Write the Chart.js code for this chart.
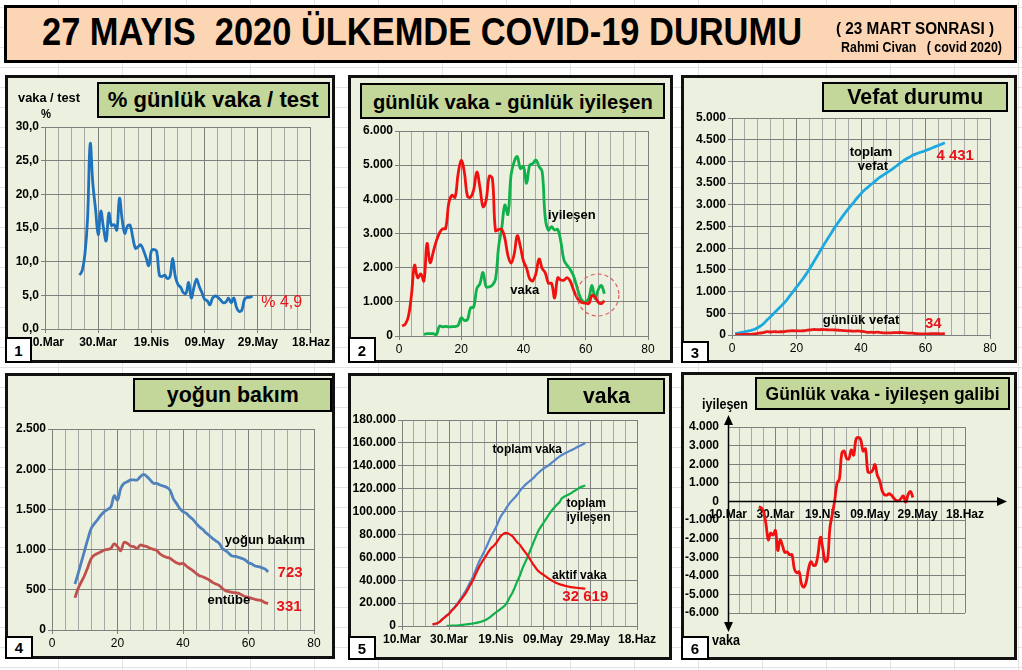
<!DOCTYPE html>
<html lang="tr">
<head>
<meta charset="utf-8">
<title>27 Mayıs 2020 Ülkemde Covid-19 Durumu</title>
<script src="https://cdn.jsdelivr.net/npm/chart.js@4.4.1/dist/chart.umd.min.js"></script>
<style>
  html, body { margin: 0; padding: 0; }
  body {
    width: 1022px; height: 670px; position: relative; overflow: hidden;
    background-color: #fff;
    background-image: linear-gradient(#e3e3e3 1px, transparent 1px), linear-gradient(90deg, #e3e3e3 1px, transparent 1px);
    background-size: 64px 20px;
    background-position: -6px 7px;
    font-family: "Liberation Sans Narrow", "Liberation Sans", Arial, sans-serif;
  }
  .banner { position: absolute; left: 4px; top: 5px; width: 1013px; height: 58px; box-sizing: border-box; background: #fcd5b4; border: 3px solid #000; }
  .fit { position: absolute; z-index: 4; white-space: pre; font-weight: bold; transform-origin: left top; line-height: 1; color: #000; }
  .panel { position: absolute; box-sizing: border-box; background: #ebf1de; border: 3px solid #111; }
  canvas { position: absolute; z-index: 2; }
  .ttl { position: absolute; z-index: 3; box-sizing: border-box; background: #c4d79b; border: 2px solid #000; display: flex; align-items: center; justify-content: center; }
  .ttl span { font-weight: bold; white-space: nowrap; display: inline-block; line-height: 1; }
  .num { position: absolute; z-index: 3; box-sizing: border-box; background: #fff; border: 2px solid #000; font: bold 15px "Liberation Sans", Arial, sans-serif; display: flex; align-items: center; justify-content: center; }
</style>
</head>
<body>
<div class="banner"></div>
<span class="fit" data-w="760" style="left:42px;top:13px;font-size:38px;">27 MAYIS  2020 ÜLKEMDE COVID-19 DURUMU</span>
<span class="fit" data-w="158" style="left:836px;top:21px;font-size:16px;">( 23 MART SONRASI )</span>
<span class="fit" data-w="161" style="left:841px;top:40px;font-size:14px;">Rahmi Civan   ( covid 2020)</span>

<div class="panel" style="left:5px;top:75px;width:330px;height:288px;"></div>
<div class="panel" style="left:348px;top:75px;width:325px;height:288px;"></div>
<div class="panel" style="left:681px;top:75px;width:336px;height:288px;"></div>
<div class="panel" style="left:5px;top:373px;width:330px;height:286px;"></div>
<div class="panel" style="left:348px;top:373px;width:324px;height:287px;"></div>
<div class="panel" style="left:681px;top:372px;width:336px;height:288px;"></div>

<canvas id="c1"></canvas>
<canvas id="c2"></canvas>
<canvas id="c3"></canvas>
<canvas id="c4"></canvas>
<canvas id="c5"></canvas>
<canvas id="c6"></canvas>

<div class="ttl" style="left:97px;top:82px;width:233px;height:36px;"><span data-w="211" style="font-size:22px;">%  günlük vaka / test</span></div>
<div class="ttl" style="left:360px;top:83px;width:305px;height:36px;"><span data-w="280" style="font-size:21px;">günlük vaka  - günlük iyileşen</span></div>
<div class="ttl" style="left:822px;top:82px;width:186px;height:30px;"><span data-w="136" style="font-size:22px;">Vefat durumu</span></div>
<div class="ttl" style="left:133px;top:378px;width:199px;height:34px;"><span data-w="132" style="font-size:22px;">yoğun bakım</span></div>
<div class="ttl" style="left:547px;top:378px;width:118px;height:36px;"><span data-w="47" style="font-size:22px;">vaka</span></div>
<div class="ttl" style="left:755px;top:377px;width:255px;height:33px;"><span data-w="234" style="font-size:18px;">Günlük vaka - iyileşen galibi</span></div>

<span class="fit" data-w="62" style="left:18px;top:91px;font-size:13px;">vaka / test</span>
<span class="fit" data-w="10" style="left:41px;top:107px;font-size:13px;">%</span>
<span class="fit" data-w="46" style="left:702px;top:396px;font-size:15px;">iyileşen</span>
<span class="fit" data-w="28" style="left:712px;top:632px;font-size:15px;">vaka</span>

<div class="num" style="left:5px;top:337px;width:27px;height:26px;">1</div>
<div class="num" style="left:348px;top:337px;width:28px;height:26px;">2</div>
<div class="num" style="left:681px;top:341px;width:28px;height:22px;">3</div>
<div class="num" style="left:5px;top:636px;width:28px;height:23px;">4</div>
<div class="num" style="left:348px;top:636px;width:28px;height:24px;">5</div>
<div class="num" style="left:681px;top:636px;width:28px;height:24px;">6</div>

<script>
// x axis of the date charts: days counted from 10 March 2020
const dateLabels = ["10.Mar", "30.Mar", "19.Nis", "09.May", "29.May", "18.Haz"];
const firstDay = 13; // 23 Mart

// 1 - % günlük vaka / test (23 Mar - 27 May)
const caseTestPct = [
  8.0, 8.7, 11.1, 16.4, 27.5, 21.5, 17.8, 14.0, 17.5, 15.0,
  13.1, 17.2, 15.4, 15.5, 14.7, 19.4, 16.3, 14.2, 15.3, 15.4,
  13.6, 12.0, 12.2, 12.5, 11.7, 10.6, 9.4, 11.6, 11.8, 11.5,
  8.0, 7.8, 8.0, 7.5, 7.8, 10.5, 7.8, 6.6, 6.2, 5.4,
  5.3, 6.9, 4.6, 6.2, 7.4, 6.3, 5.4, 4.4, 4.2, 3.6,
  4.6, 4.9, 4.7, 4.3, 3.9, 4.0, 4.6, 3.9, 4.6, 3.2,
  2.6, 2.8, 4.4, 4.7, 4.7, 4.9,
];

// 2 - günlük vaka (gün 1..66), günlük iyileşen (gün 8..66)
const dailyCases = [
  293, 343, 561, 1196, 2069, 1704, 1815, 1610, 2704, 2148,
  2456, 2786, 3013, 3135, 3148, 3892, 4117, 4056, 4747, 5138,
  4789, 4093, 4062, 4281, 4801, 4353, 3783, 3977, 4674, 4611,
  3083, 3116, 3122, 2861, 2357, 2131, 2392, 2936, 2615, 2188,
  1983, 1670, 1614, 1832, 2253, 1977, 1848, 1546, 1542, 1114,
  1704, 1639, 1635, 1708, 1610, 1368, 1158, 1022, 972, 961,
  952, 1186, 1141, 987, 948, 1034,
];
const dailyRecoveredStart = 8;
const dailyRecovered = [
  50, 70, 70, 70, 40, 290, 265, 280, 265, 275,
  275, 310, 530, 460, 480, 820, 850, 1390, 1530, 1860,
  1440, 1440, 1490, 1660, 2610, 3150, 3830, 3560, 4710, 5100,
  5250, 4900, 4960, 4470, 5000, 5050, 5150, 4960, 4810, 3450,
  3100, 3200, 3100, 3120, 2760, 2220, 2070, 1950, 1780, 1490,
  1190, 1020, 1000, 1110, 1480, 1100, 1350, 1480, 1240,
];

// 3 - toplam vefat, günlük vefat (gün 1..66)
const totalDeaths = [
  37, 44, 59, 75, 92, 108, 131, 168, 214, 277,
  356, 425, 501, 574, 649, 725, 812, 908, 1006, 1101,
  1198, 1296, 1403, 1518, 1643, 1769, 1890, 2017, 2140, 2259,
  2376, 2491, 2600, 2706, 2805, 2900, 2992, 3081, 3174, 3258,
  3336, 3397, 3461, 3520, 3584, 3641, 3689, 3739, 3786, 3841,
  3894, 3952, 4007, 4055, 4096, 4140, 4171, 4199, 4222, 4249,
  4276, 4308, 4340, 4369, 4397, 4431,
];
const dailyDeaths = [
  7, 7, 15, 16, 17, 16, 23, 37, 46, 63,
  79, 69, 76, 73, 75, 76, 87, 96, 98, 95,
  97, 98, 107, 115, 125, 126, 121, 127, 123, 119,
  117, 115, 109, 106, 99, 95, 92, 89, 93, 84,
  78, 61, 64, 59, 64, 57, 48, 50, 47, 55,
  53, 58, 55, 48, 41, 44, 31, 28, 23, 27,
  27, 32, 32, 29, 28, 34,
];

// 4 - yoğun bakım, entübe (gün 7..66)
const icuStart = 7;
const icuPatients = [
  572, 705, 850, 995, 1140, 1265, 1327, 1376, 1430, 1472,
  1500, 1534, 1670, 1617, 1762, 1824, 1845, 1866, 1866, 1866,
  1907, 1936, 1907, 1866, 1824, 1824, 1803, 1791, 1775, 1741,
  1638, 1575, 1513, 1472, 1451, 1410, 1376, 1327, 1285, 1252,
  1210, 1175, 1140, 1110, 1080, 1016, 987, 954, 920, 915,
  904, 891, 871, 837, 821, 796, 788, 775, 760, 723,
];
const intubated = [
  402, 518, 601, 684, 788, 891, 933, 954, 974, 995,
  1003, 1016, 1070, 1037, 987, 1090, 1078, 1045, 1037, 1016,
  1057, 1045, 1037, 1016, 1003, 987, 945, 920, 904, 891,
  862, 837, 821, 829, 796, 767, 738, 705, 676, 663,
  643, 622, 593, 572, 556, 518, 489, 477, 468, 464,
  456, 435, 415, 406, 394, 381, 373, 365, 340, 331,
];

// 5 - toplam vaka, aktif vaka (23 Mar..), toplam iyileşen (29 Mar..)
const totalCases = [
  1529, 1872, 2433, 3629, 5698, 7402, 9217, 10827, 13531, 15679,
  18135, 20921, 23934, 27069, 30217, 34109, 38226, 42282, 47029, 52167,
  56956, 61049, 65111, 69392, 74193, 78546, 82329, 86306, 90980, 95591,
  98674, 101790, 104912, 107773, 110130, 112261, 114653, 117589, 120204, 122392,
  124375, 126045, 127659, 129491, 131744, 133721, 135569, 137115, 138657, 139771,
  141475, 143114, 144749, 146457, 148067, 149435, 150593, 151615, 152587, 153548,
  154500, 155686, 156827, 157814, 158762, 159797,
];
const activeCases = [
  1466, 1802, 2348, 3512, 5564, 7224, 8981, 10497, 13074, 15069,
  17364, 20012, 22647, 25453, 28242, 31802, 35568, 39232, 43600, 48101,
  52312, 55796, 58909, 62200, 65461, 68146, 69986, 72313, 75410, 78414,
  80300, 81300, 81000, 79900, 78400, 75800, 73200, 71300, 68400, 65600,
  63000, 59900, 56600, 53400, 50600, 48000, 46400, 45000, 43500, 42000,
  40600, 39400, 38300, 37400, 36600, 35900, 35300, 34800, 34400, 34000,
  33700, 33400, 33200, 33000, 32800, 32619,
];
const recoveredStart = 19;
const totalRecovered = [
  105, 162, 243, 333, 415, 484, 786, 1042, 1326, 1582,
  1846, 2142, 2423, 2965, 3446, 3957, 4799, 5674, 7089, 8631,
  10453, 11976, 13430, 14918, 16477, 18491, 21737, 25582, 29140, 33791,
  38809, 43260, 48886, 53808, 58259, 63151, 68166, 73285, 78202, 82984,
  86396, 89480, 92691, 95780, 98889, 101715, 104030, 106133, 108137, 111577,
  112895, 113987, 114990, 116111, 117602, 118694, 120015, 121507, 122000, 122747,
];

// 6 - günlük iyileşen eksi günlük vaka (23 Mar..)
const netRecovered = [
  -293, -343, -561, -1196, -2069, -1704, -1815, -1560, -2634, -2078,
  -2386, -2746, -2723, -2870, -2868, -3627, -3842, -3781, -4437, -4608,
  -4329, -3613, -3242, -3431, -3411, -2823, -1923, -2537, -3234, -3121,
  -1423, -700, 28, 969, 1203, 2579, 2708, 2314, 2285, 2772,
  2487, 3330, 3436, 3318, 2707, 2833, 1600, 1554, 1658, 1986,
  1416, 1121, 585, 362, 340, 412, 332, 168, 48, 39,
  158, 294, -41, 363, 532, 206,
];

const FONT = '"Liberation Sans Narrow", "Liberation Sans", Arial, sans-serif';
const GRID_MAJOR = "#7f7f7f";
const GRID_MINOR = "#a8a8a8";

Chart.defaults.font.family = FONT;
Chart.defaults.color = "#000";

// fit the html texts to the widths they have in the picture
document.querySelectorAll("[data-w]").forEach((el) => {
  const w = Number(el.dataset.w);
  const actual = el.getBoundingClientRect().width;
  el.style.transformOrigin = el.classList.contains("fit") ? "left top" : "center center";
  el.style.transform = `scaleX(${w / actual})`;
});

const points = (start, values) => values.map((v, i) => ({ x: start + i, y: v }));

function trNum(v) {
  const s = String(Math.abs(Math.round(v))).replace(/\B(?=(\d{3})+(?!\d))/g, ".");
  return v < 0 ? "-" + s : s;
}

function frame(id, p, a) {
  const canvas = document.getElementById(id);
  const cx = p.x + 3, cy = p.y + 3, cw = p.w - 6, ch = p.h - 6;
  canvas.width = cw;
  canvas.height = ch;
  canvas.style.left = cx + "px";
  canvas.style.top = cy + "px";
  return {
    canvas,
    padding: { left: 0, top: a.t - cy, right: cx + cw - a.r, bottom: 0 },
    yw: a.l - cx,
    xh: cy + ch - a.b,
    bottomPad: cy + ch - a.b,
  };
}

function xAxis(f, o) {
  const isMajor = (c) => c.tick && Math.round(c.tick.value) % o.major === 0;
  return {
    type: "linear",
    min: o.min,
    max: o.max,
    afterFit: (s) => { s.height = f.xh; },
    grid: {
      color: (c) => (isMajor(c) ? GRID_MAJOR : GRID_MINOR),
      tickColor: (c) => (isMajor(c) ? GRID_MAJOR : "rgba(0,0,0,0)"),
      tickLength: 4,
    },
    border: { color: GRID_MAJOR },
    ticks: {
      stepSize: o.step,
      autoSkip: false,
      maxRotation: 0,
      padding: 2,
      color: "#000",
      font: { size: 12, weight: o.bold ? "bold" : "normal" },
      callback: o.label,
    },
  };
}

function yAxis(f, o) {
  return {
    min: o.min,
    max: o.max,
    afterFit: (s) => { s.width = f.yw; },
    grid: { color: GRID_MAJOR, tickLength: 4 },
    border: { color: GRID_MAJOR },
    ticks: {
      stepSize: o.step,
      autoSkip: false,
      padding: 2,
      color: "#000",
      font: { size: 12, weight: "bold" },
      callback: o.label,
    },
  };
}

const dateLabel = (v) => (v % 20 === 0 ? dateLabels[v / 20] : "");
const numLabel = (v) => (v % 20 === 0 ? String(v) : "");

function notes(items, extra) {
  return {
    id: "notes",
    afterDatasetsDraw(chart) {
      const { ctx } = chart;
      const xs = chart.scales.x;
      const ys = chart.scales.y;
      ctx.save();
      items.forEach((n) => {
        ctx.font = `${n.bold === false ? "" : "bold "}${n.size || 13}px ${FONT}`;
        ctx.fillStyle = n.color || "#000";
        ctx.textAlign = n.align || "center";
        ctx.textBaseline = "middle";
        ctx.fillText(n.text, xs.getPixelForValue(n.x), ys.getPixelForValue(n.y));
      });
      if (extra) extra(ctx, xs, ys);
      ctx.restore();
    },
  };
}

function line(label, data, color, width, order) {
  return {
    label,
    data,
    borderColor: color,
    borderWidth: width || 2.8,
    pointRadius: 0,
    tension: 0.4,
    fill: false,
    order: order || 0,
  };
}

function makeChart(f, datasets, scales, plugins) {
  return new Chart(f.canvas, {
    type: "line",
    data: { datasets },
    options: {
      responsive: false,
      animation: false,
      events: [],
      layout: { padding: f.padding },
      scales,
      plugins: { legend: { display: false }, tooltip: { enabled: false } },
    },
    plugins,
  });
}

// 1
const f1 = frame("c1", { x: 5, y: 75, w: 330, h: 288 }, { l: 45, t: 127, r: 313, b: 329 });
makeChart(
  f1,
  [line("vaka / test", points(firstDay, caseTestPct), "#1f72bd", 2.8)],
  {
    x: xAxis(f1, { min: 0, max: 100, step: 5, major: 20, bold: true, label: dateLabel }),
    y: yAxis(f1, { min: 0, max: 30, step: 5, label: (v) => v.toFixed(1).replace(".", ",") }),
  },
  [notes([{ text: "% 4,9", x: 81.3, y: 3.9, align: "left", color: "#e8141b", size: 16, bold: false }])]
);

// 2
const f2 = frame("c2", { x: 348, y: 75, w: 325, h: 288 }, { l: 399, t: 131, r: 648, b: 336 });
makeChart(
  f2,
  [
    line("günlük vaka", points(1, dailyCases), "#f01010", 2.8, 0),
    line("günlük iyileşen", points(dailyRecoveredStart, dailyRecovered), "#10b04a", 2.8, 1),
  ],
  {
    x: xAxis(f2, { min: 0, max: 80, step: 4, major: 20, bold: false, label: numLabel }),
    y: yAxis(f2, { min: 0, max: 6000, step: 1000, label: trNum }),
  },
  [notes(
    [
      { text: "iyileşen", x: 55.5, y: 3520 },
      { text: "vaka", x: 40.4, y: 1346 },
    ],
    (ctx, xs, ys) => {
      ctx.strokeStyle = "#e06060";
      ctx.lineWidth = 1.2;
      ctx.setLineDash([4, 3]);
      ctx.beginPath();
      ctx.arc(xs.getPixelForValue(63.9), ys.getPixelForValue(1200), 21, 0, Math.PI * 2);
      ctx.stroke();
    }
  )]
);

// 3
const f3 = frame("c3", { x: 681, y: 75, w: 336, h: 288 }, { l: 732, t: 118, r: 990, b: 335 });
makeChart(
  f3,
  [
    line("günlük vefat", points(1, dailyDeaths), "#e81818", 2.8, 0),
    line("toplam vefat", points(1, totalDeaths), "#1ea8e0", 2.8, 1),
  ],
  {
    x: xAxis(f3, { min: 0, max: 80, step: 4, major: 20, bold: false, label: numLabel }),
    y: yAxis(f3, { min: 0, max: 5000, step: 500, label: trNum }),
  },
  [notes([
    { text: "toplam", x: 43.1, y: 4207 },
    { text: "vefat", x: 43.7, y: 3877 },
    { text: "4 431", x: 69.2, y: 4131, color: "#e8141b", size: 15 },
    { text: "günlük vefat", x: 40.0, y: 346 },
    { text: "34", x: 62.4, y: 254, color: "#e8141b", size: 15 },
  ])]
);

// 4
const f4 = frame("c4", { x: 5, y: 373, w: 330, h: 286 }, { l: 52, t: 429, r: 314, b: 630 });
makeChart(
  f4,
  [
    line("yoğun bakım", points(icuStart, icuPatients), "#4f81bd", 2.8, 0),
    line("entübe", points(icuStart, intubated), "#c0504d", 2.8, 1),
  ],
  {
    x: xAxis(f4, { min: 0, max: 80, step: 4, major: 20, bold: false, label: numLabel }),
    y: yAxis(f4, { min: 0, max: 2500, step: 500, label: trNum }),
  },
  [notes([
    { text: "yoğun bakım", x: 65.0, y: 1111 },
    { text: "723", x: 72.7, y: 709, color: "#e8141b", size: 15 },
    { text: "entübe", x: 54.0, y: 373 },
    { text: "331", x: 72.4, y: 286, color: "#e8141b", size: 15 },
  ])]
);

// 5
const f5 = frame("c5", { x: 348, y: 373, w: 324, h: 287 }, { l: 402, t: 420, r: 637, b: 626 });
makeChart(
  f5,
  [
    line("aktif vaka", points(firstDay, activeCases), "#f01010", 2.2, 0),
    line("toplam vaka", points(firstDay, totalCases), "#5585c8", 2.2, 1),
    line("toplam iyileşen", points(recoveredStart, totalRecovered), "#10b04a", 2.2, 2),
  ],
  {
    x: xAxis(f5, { min: 0, max: 100, step: 5, major: 20, bold: true, label: dateLabel }),
    y: yAxis(f5, { min: 0, max: 180000, step: 20000, label: trNum }),
  },
  [notes([
    { text: "toplam vaka", x: 53.3, y: 153800, size: 12 },
    { text: "toplam", x: 70.0, y: 106600, size: 12, align: "left" },
    { text: "iyileşen", x: 70.0, y: 94400, size: 12, align: "left" },
    { text: "aktif vaka", x: 75.5, y: 43700, size: 12 },
    { text: "32 619", x: 78.0, y: 25300, color: "#e8141b", size: 15 },
  ])]
);

// 6
const f6 = frame("c6", { x: 681, y: 372, w: 336, h: 288 }, { l: 728, t: 427, r: 965, b: 613 });
f6.padding.bottom = f6.bottomPad;
const arrowAxes = {
  id: "arrowAxes",
  afterDraw(chart) {
    const { ctx } = chart;
    const xs = chart.scales.x;
    const ys = chart.scales.y;
    const x0 = Math.round(xs.getPixelForValue(0)) + 0.5;
    const y0 = Math.round(ys.getPixelForValue(0)) + 0.5;
    const xEnd = xs.right + 42;
    const yTop = ys.top - 12;
    const yBot = ys.bottom + 19;
    ctx.save();
    ctx.strokeStyle = "#000";
    ctx.fillStyle = "#000";
    ctx.lineWidth = 1.5;
    ctx.beginPath();
    ctx.moveTo(x0, y0);
    ctx.lineTo(xEnd - 6, y0);
    ctx.moveTo(x0, yTop + 6);
    ctx.lineTo(x0, yBot - 6);
    ctx.stroke();
    ctx.beginPath();
    ctx.moveTo(xEnd, y0);
    ctx.lineTo(xEnd - 10, y0 - 4.5);
    ctx.lineTo(xEnd - 10, y0 + 4.5);
    ctx.closePath();
    ctx.moveTo(x0, yTop);
    ctx.lineTo(x0 - 4.5, yTop + 10);
    ctx.lineTo(x0 + 4.5, yTop + 10);
    ctx.closePath();
    ctx.moveTo(x0, yBot);
    ctx.lineTo(x0 - 4.5, yBot - 10);
    ctx.lineTo(x0 + 4.5, yBot - 10);
    ctx.closePath();
    ctx.fill();
    ctx.restore();
  },
};
const x6 = xAxis(f6, { min: 0, max: 100, step: 5, major: 20, bold: true, label: dateLabel });
delete x6.afterFit;
x6.position = { y: 0 };
x6.border = { display: false };
x6.grid.drawTicks = false;
x6.ticks.padding = 6;
const y6 = yAxis(f6, { min: -6000, max: 4000, step: 1000, label: trNum });
y6.border = { display: false };
y6.grid.drawTicks = false;
y6.ticks.padding = 9;
makeChart(
  f6,
  [line("iyileşen - vaka", points(firstDay, netRecovered), "#f01010", 2.8)],
  { x: x6, y: y6 },
  [arrowAxes]
);
</script>
</body>
</html>
